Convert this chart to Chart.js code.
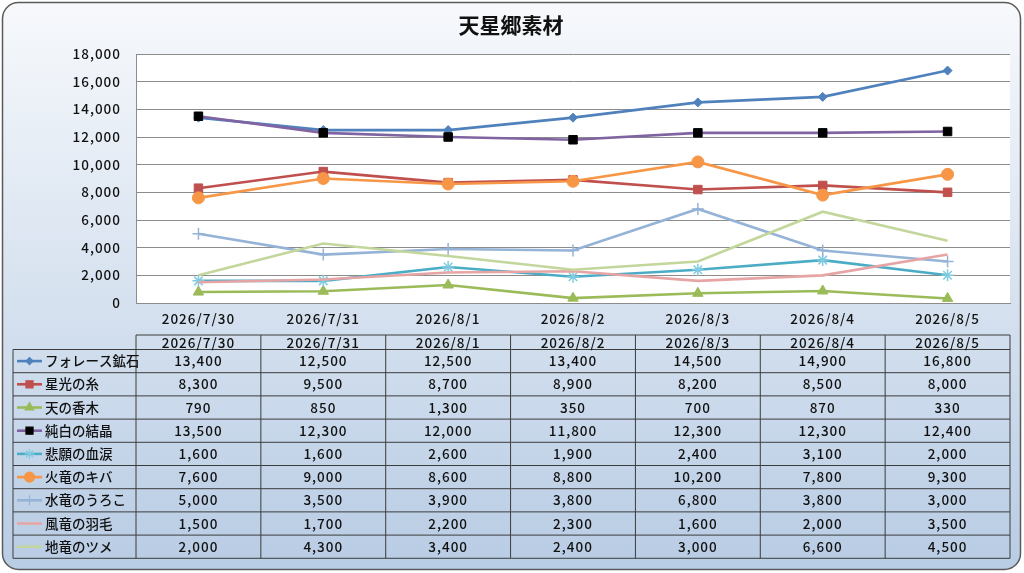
<!DOCTYPE html>
<html>
<head>
<meta charset="utf-8">
<script src="https://cdn.jsdelivr.net/npm/chart.js@4"></script>
<style>
  html, body { margin: 0; padding: 0; background: #fff; }
  #wrap { width: 1024px; height: 573px; position: relative; }
</style>
</head>
<body>
<div id="wrap"><canvas id="chart" width="1024" height="573"></canvas></div>
<script>
// categories and series
const dates = ["2026/7/30", "2026/7/31", "2026/8/1", "2026/8/2", "2026/8/3", "2026/8/4", "2026/8/5"];
const names = ["フォレース鉱石", "星光の糸", "天の香木", "純白の結晶", "悲願の血涙", "火竜のキバ", "水竜のうろこ", "風竜の羽毛", "地竜のツメ"];
const foreceOre = [13400, 12500, 12500, 13400, 14500, 14900, 16800];
const starThread = [8300, 9500, 8700, 8900, 8200, 8500, 8000];
const heavenWood = [790, 850, 1300, 350, 700, 870, 330];
const pureCrystal = [13500, 12300, 12000, 11800, 12300, 12300, 12400];
const tearsOfWish = [1600, 1600, 2600, 1900, 2400, 3100, 2000];
const fireFang = [7600, 9000, 8600, 8800, 10200, 7800, 9300];
const waterScale = [5000, 3500, 3900, 3800, 6800, 3800, 3000];
const windFeather = [1500, 1700, 2200, 2300, 1600, 2000, 3500];
const earthClaw = [2000, 4300, 3400, 2400, 3000, 6600, 4500];
const seriesValues = [foreceOre, starThread, heavenWood, pureCrystal, tearsOfWish, fireFang, waterScale, windFeather, earthClaw];

// look of each series
const styles = [
  { line: "#4F81BD", style: "rectRot", r: 4.5, fill: "#4F81BD", edge: "#4F81BD" },
  { line: "#C0504D", style: "rect", r: 6, fill: "#C0504D", edge: "#C0504D" },
  { line: "#9BBB59", style: "triangle", r: 6, fill: "#9BBB59", edge: "#9BBB59" },
  { line: "#8064A2", style: "rect", r: 6, fill: "#000000", edge: "#000000" },
  { line: "#4BACC6", style: "star", r: 6, fill: "#7FCBE0", edge: "#7FCBE0" },
  { line: "#F79646", style: "circle", r: 6, fill: "#F79646", edge: "#F79646" },
  { line: "#95B3D7", style: "cross", r: 6, fill: "#95B3D7", edge: "#95B3D7" },
  { line: "#E6A5A4", style: false, r: 0, fill: "#E6A5A4", edge: "#E6A5A4" },
  { line: "#C3D69B", style: false, r: 0, fill: "#C3D69B", edge: "#C3D69B" },
];

const numFont = "'Noto Sans CJK JP', sans-serif";
const fmt = v => v.toLocaleString("en-US");

const datasets = names.map((n, i) => ({
  label: n,
  data: seriesValues[i],
  borderColor: styles[i].line,
  backgroundColor: styles[i].fill,
  borderWidth: 2.6,
  pointStyle: styles[i].style || "circle",
  pointRadius: styles[i].r,
  pointBorderWidth: styles[i].style === "star" || styles[i].style === "cross" ? 1.5 : 1,
  pointBackgroundColor: styles[i].fill,
  pointBorderColor: styles[i].edge,
  tension: 0,
  order: names.length - i,
}));

// background frame, title and data table
const frame = {
  id: "frame",
  beforeDraw(chart) {
    const ctx = chart.ctx;
    const a = chart.chartArea;
    ctx.save();
    ctx.fillStyle = "#ffffff";
    ctx.fillRect(0, 0, chart.width, chart.height);
    const g = ctx.createLinearGradient(0, 2, 0, 570);
    g.addColorStop(0, "#f7f9fc");
    g.addColorStop(1, "#b8cce4");
    ctx.beginPath();
    ctx.roundRect(2.5, 2.5, 1018, 567, 16);
    ctx.fillStyle = g;
    ctx.fill();
    ctx.lineWidth = 1.5;
    ctx.strokeStyle = "#5a5a5a";
    ctx.stroke();
    ctx.fillStyle = "#ffffff";
    ctx.fillRect(a.left, a.top, a.right - a.left, a.bottom - a.top);
    ctx.fillStyle = "#111";
    ctx.font = "bold 21px 'Noto Sans CJK JP', sans-serif";
    ctx.textAlign = "center";
    ctx.textBaseline = "middle";
    ctx.fillText("天星郷素材", 511, 25);
    ctx.restore();
    // wider digits like the original
    ctx.letterSpacing = "1px";
  },
  afterDraw(chart) {
    const ctx = chart.ctx;
    const xs = chart.scales.x;
    const step = xs.getPixelForValue(1) - xs.getPixelForValue(0);
    const left0 = 13, left1 = xs.getPixelForValue(0) - step / 2;
    const cols = dates.map((d, i) => xs.getPixelForValue(i));
    const right = cols[cols.length - 1] + step / 2;
    const headTop = 335, headBot = 349.5, rowH = 23.2;
    const bottom = headBot + rowH * names.length;
    ctx.save();
    ctx.letterSpacing = "1px";
    ctx.strokeStyle = "#3c3c3c";
    ctx.lineWidth = 1;
    ctx.beginPath();
    // header box
    ctx.moveTo(left1, headTop); ctx.lineTo(right, headTop);
    for (let r = 0; r <= names.length; r++) {
      const y = headBot + r * rowH;
      ctx.moveTo(left0, y); ctx.lineTo(right, y);
    }
    ctx.moveTo(left0, headBot); ctx.lineTo(left0, bottom);
    for (let c = 0; c <= cols.length; c++) {
      const x = left1 + c * step;
      ctx.moveTo(x, headTop); ctx.lineTo(x, bottom);
    }
    ctx.stroke();

    ctx.fillStyle = "#111";
    ctx.textAlign = "center";
    ctx.textBaseline = "middle";
    ctx.font = "500 13.5px " + numFont;
    dates.forEach((d, i) => ctx.fillText(d, cols[i], headTop + 7.5));
    seriesValues.forEach((vals, r) => {
      const y = headBot + r * rowH + rowH / 2;
      vals.forEach((v, i) => ctx.fillText(fmt(v), cols[i], y));
    });

    // legend keys
    names.forEach((n, r) => {
      const y = headBot + r * rowH + rowH / 2;
      const s = styles[r];
      ctx.strokeStyle = s.line;
      ctx.lineWidth = 2.6;
      ctx.beginPath();
      ctx.moveTo(17, y); ctx.lineTo(42, y);
      ctx.stroke();
      if (s.style) {
        ctx.fillStyle = s.fill;
        ctx.strokeStyle = s.edge;
        ctx.lineWidth = 1.2;
        Chart.helpers.drawPoint(ctx, { pointStyle: s.style, radius: s.r - 1, borderWidth: 1.2, rotation: 0 }, 29.5, y);
      }
      ctx.fillStyle = "#111";
      ctx.textAlign = "left";
      ctx.letterSpacing = "0px";
      ctx.font = "500 13.5px " + numFont;
      ctx.fillText(n, 45, y);
    });
    ctx.restore();
  },
};

new Chart(document.getElementById("chart"), {
  type: "line",
  data: { labels: dates, datasets: datasets },
  plugins: [frame],
  options: {
    responsive: false,
    animation: false,
    layout: { padding: { top: 54, right: 14, bottom: 240, left: 0 } },
    plugins: { legend: { display: false }, tooltip: { enabled: false }, title: { display: false } },
    scales: {
      x: {
        offset: true,
        afterFit: s => { s.height = 30; },
        grid: { display: false, drawTicks: false, offset: true },
        border: { color: "#8c8c8c", width: 1 },
        ticks: { color: "#111", padding: 8, maxRotation: 0, font: { family: numFont, size: 13.5, weight: 500 } },
      },
      y: {
        min: 0,
        max: 18000,
        afterFit: s => { s.width = 136; },
        grid: { color: "#8c8c8c", lineWidth: 1, drawTicks: false },
        border: { color: "#8c8c8c", width: 1 },
        ticks: { stepSize: 2000, color: "#111", padding: 15, callback: v => fmt(v), font: { family: numFont, size: 13.5, weight: 500 } },
      },
    },
  },
});
</script>
</body>
</html>
